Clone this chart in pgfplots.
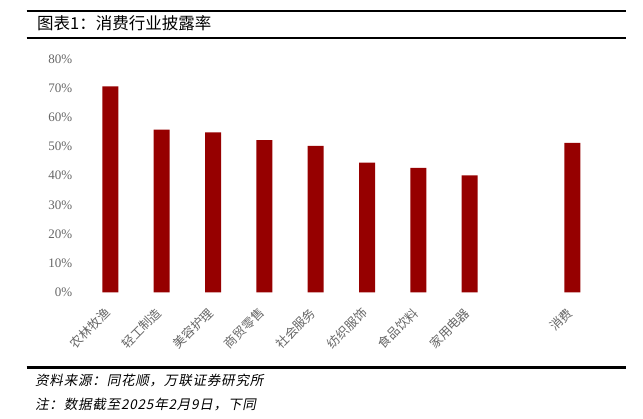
\documentclass[border=0pt]{standalone}
\usepackage{pgfplots}
\pgfplotsset{compat=1.18}
\usepackage{fontspec}
\setmainfont{Liberation Serif}
\newfontfamily\cjk{Noto Sans CJK SC}
\newfontfamily\cjkfoot{Noto Sans CJK SC}[FakeSlant=0.2,LetterSpace=6]
\definecolor{barred}{HTML}{960000}
\definecolor{txtgray}{HTML}{666666}
\begin{document}
\begin{tikzpicture}[x=1pt,y=1pt]
\path[use as bounding box] (0,0) rectangle (643,418);
\draw[line width=2.5pt] (26.7,407) -- (626,407);
\draw[line width=2pt] (26.7,379.7) -- (626,379.7);
\draw[line width=2.5pt] (26.7,50.5) -- (626,50.5);
\node[anchor=base west, inner sep=0pt, font=\fontsize{16.5}{19}\cjk] at (37,388) {图表1：消费行业披露率};
\node[anchor=base west, inner sep=0pt, font=\fontsize{13.5}{16}\cjkfoot] at (35,32.5) {资料来源：同花顺，万联证券研究所};
\node[anchor=base west, inner sep=0pt, font=\fontsize{13.5}{16}\cjkfoot] at (35,9) {注：数据截至2025年2月9日，下同};
\begin{axis}[at={(84.7pt,125.7pt)}, anchor=south west, scale only axis,
  width=513.3pt, height=233.3pt,
  xmin=-0.5, xmax=9.5, ymin=0, ymax=80,
  axis line style={draw=none}, major tick length=0pt,
  ytick={0,10,...,80},
  yticklabel={\pgfmathprintnumber{\tick}\%},
  yticklabel style={font=\fontsize{13}{15}\selectfont, text=txtgray},
  yticklabel shift=9pt,
  xtick={0,1,2,3,4,5,6,7,9},
  xticklabels={农林牧渔,轻工制造,美容护理,商贸零售,社会服务,纺织服饰,食品饮料,家用电器,消费},
  xticklabel style={font=\fontsize{12.5}{14}\cjk, text=txtgray, rotate=45, anchor=east},
  xticklabel shift=16pt,
  /pgf/number format/assume math mode=true,
  ybar, bar width=16pt, clip=false]
\addplot[fill=barred, draw=none] coordinates {(0,70.6) (1,55.8) (2,54.8) (3,52.2) (4,50.2) (5,44.5) (6,42.7) (7,40.1) (9,51.2)};
\end{axis}
\end{tikzpicture}
\end{document}
